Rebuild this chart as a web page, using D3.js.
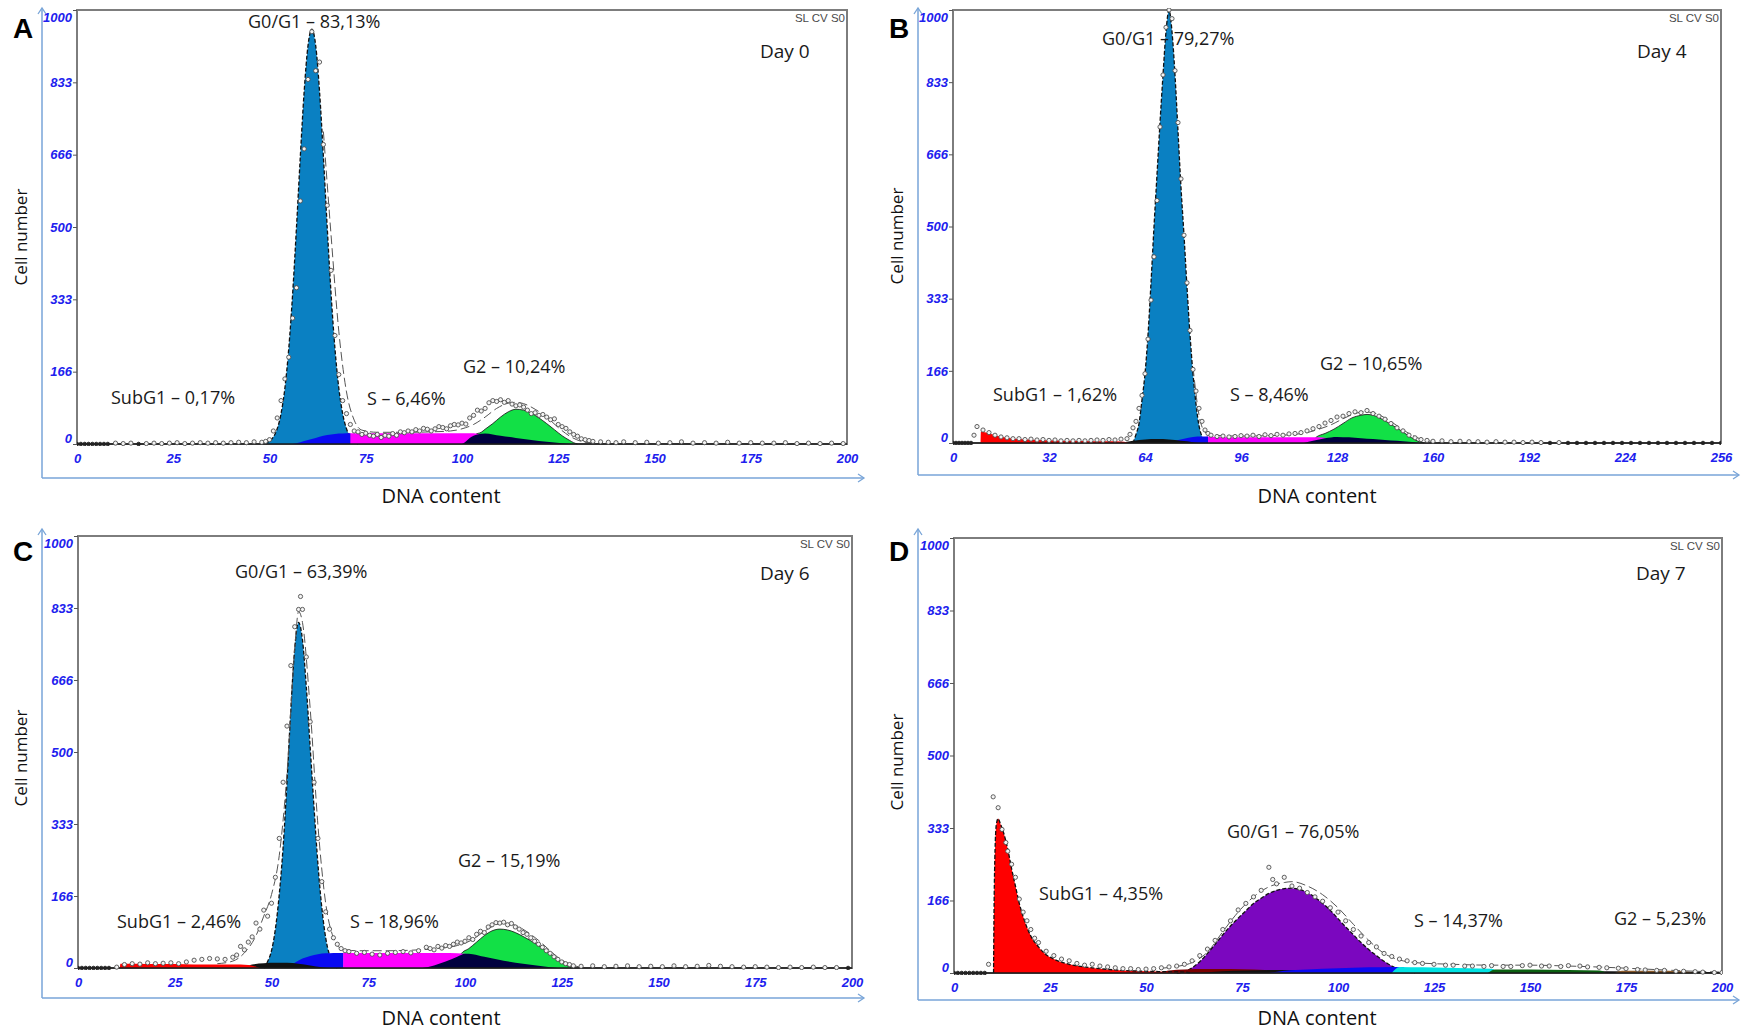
<!DOCTYPE html>
<html><head><meta charset="utf-8">
<script src="https://cdn.jsdelivr.net/npm/d3@7"></script>
<style>
body{margin:0;background:#fff;}
svg{display:block;}
</style></head>
<body>
<svg id="chart" width="1742" height="1032"></svg>
<script>
// ---------------- DATA ----------------
const yTickValues = [0, 166.67, 333.33, 500, 666.67, 833.33, 1000];
const yTickLabels = ["0", "166", "333", "500", "666", "833", "1000"];
const xTicks200 = [0, 25, 50, 75, 100, 125, 150, 175, 200];
const xTicks256 = [0, 32, 64, 96, 128, 160, 192, 224, 256];

const A_LABELS = ["G0/G1 – 83,13%", "SubG1 – 0,17%", "S – 6,46%", "G2 – 10,24%", "Day 0"];
const B_LABELS = ["G0/G1 – 79,27%", "SubG1 – 1,62%", "S – 8,46%", "G2 – 10,65%", "Day 4"];
const C_LABELS = ["G0/G1 – 63,39%", "SubG1 – 2,46%", "S – 18,96%", "G2 – 15,19%", "Day 6"];
const D_LABELS = ["G0/G1 – 76,05%", "SubG1 – 4,35%", "S – 14,37%", "G2 – 5,23%", "Day 7"];

// Panel A (Day 0) components: [DNA channel, cell count]
const A_G1 = [[49,0],[50,7],[51,16],[52,35],[53,70],[54,129],[55,220],[56,345],[57,498],[58,662],[59,812],[60,918],[61,956],[62,918],[63,812],[64,662],[65,498],[66,345],[67,220],[68,129],[69,70],[70,35],[71,16],[72,7],[73,0]];
const A_SB = [[56,0],[58,4],[60,9],[62,14],[64,19],[66,22],[68,24],[70,25],[71,25]];
const A_S = [[70.5,25],[72,25],[80,25],[90,25],[100,25],[103,25],[105,20],[106.5,8],[107,0]];
const A_AGG = [[100,0],[101,6],[102,14],[104,22],[106,24],[108,22],[110,19],[114,14],[118,9],[122,5],[126,2],[130,0]];
const A_G2 = [[103,0],[103.5,22],[105,27],[106,34],[108,47],[110,62],[112,74],[114,80],[116,78],[118,71],[120,60],[122,47],[124,33],[126,19],[128,8],[129,3],[130,0]];
const A_ENV = [[64,720],[66,480],[68,260],[70,120],[72,55],[74,32],[78,27],[85,27],[92,28],[97,30],[100,35],[103,45],[106,62],[109,82],[112,94],[114,96],[116,93],[119,80],[122,62],[125,38],[128,18],[131,6],[134,2],[137,0]];
const A_PTS = [[0,0],[1,0],[2,0],[3,0],[4,0],[5,0],[6,0],[7,0],[8,0],[10,2],[12,1],[14,2],[16,0],[18,1],[20,2],[22,1],[24,2],[26,3],[28,1],[30,2],[32,3],[34,2],[36,3],[38,2],[40,3],[42,4],[44,3],[46,5],[48,4],[49,6],[50,10],[51,30],[52,60],[53,100],[54,150],[55,200],[56,290],[57,360],[58,560],[59,680],[60,840],[61,950],[62,860],[63,880],[64,690],[65,550],[66,400],[67,250],[68,160],[69,100],[70,70],[71,45],[72,30],[73,28],[74,22],[75,25],[76,20],[77,18],[78,22],[79,15],[80,20],[81,18],[82,24],[83,20],[84,28],[85,26],[86,30],[87,28],[88,33],[89,30],[90,36],[91,34],[92,30],[93,35],[94,40],[95,38],[96,35],[97,42],[98,45],[99,44],[100,48],[101,46],[102,60],[103,66],[104,78],[105,76],[106,82],[107,95],[108,100],[109,98],[110,102],[111,96],[112,100],[113,92],[114,88],[115,90],[116,85],[117,78],[118,70],[119,72],[120,66],[121,68],[122,62],[123,56],[124,58],[125,45],[126,40],[127,36],[128,28],[129,22],[130,18],[131,12],[132,10],[133,8],[134,6],[136,5],[138,4],[140,3],[142,5],[145,3],[148,4],[151,2],[154,3],[157,5],[160,2],[163,3],[166,2],[169,4],[172,2],[175,3],[178,2],[181,2],[184,3],[187,1],[190,2],[193,1],[196,2],[199,1]];

// Panel B (Day 4)
const B_RED = [[9.2,0],[9.3,26],[11,24],[14,18],[18,12],[22,9],[28,7],[34,6],[40,5],[46,4],[52,4],[57,3],[58.5,0]];
const B_BLK = [[56,0],[58,3],[60,5],[64,8],[68,9],[72,8],[76,5],[80,2],[82,0]];
const B_G1 = [[60,0],[61,20],[62,45],[63,100],[64,160],[65,250],[66,370],[67,500],[68,620],[69,740],[70,850],[71,950],[72,1000],[73,950],[74,850],[75,720],[76,590],[77,480],[78,360],[79,250],[80,160],[81,90],[82,40],[83,15],[84,0]];
const B_SB = [[70,0],[72,2],[74,5],[77,10],[80,14],[83,15],[85,15]];
const B_S = [[84.5,15],[88,14],[96,13],[104,13],[112,13],[120,13],[124,12],[126,7],[127.5,0]];
const B_AGG = [[117,0],[120,5],[124,11],[128,14],[132,13],[136,11],[140,9],[144,7],[148,5],[152,3],[156,0]];
const B_G2 = [[120,0],[121,13],[124,22],[127,32],[130,45],[133,58],[136,64],[138,66],[140,64],[143,55],[146,43],[149,30],[152,16],[155,4],[157,0]];
const B_ENV = [[80,175],[82,65],[84,25],[86,18],[96,16],[106,17],[114,20],[118,24],[122,32],[126,42],[130,56],[134,68],[137,72],[140,70],[144,58],[148,40],[152,22],[156,9],[160,3],[164,0]];
const B_PTS = [[0,0],[1,0],[2,0],[3,0],[4,0],[5,0],[6,0],[7,18],[8,38],[10,30],[12,24],[14,18],[16,14],[18,12],[20,10],[22,10],[24,8],[26,9],[28,7],[30,8],[32,6],[34,7],[36,5],[38,6],[40,5],[42,6],[44,5],[46,6],[48,7],[50,6],[52,8],[54,7],[56,9],[58,10],[59,20],[60,35],[61,50],[62,80],[63,110],[64,160],[65,240],[66,330],[67,430],[68,560],[69,730],[70,850],[71,960],[72,1000],[73,980],[74,860],[75,740],[76,610],[77,480],[78,370],[79,260],[80,170],[81,120],[82,80],[83,50],[84,30],[85,22],[86,18],[88,15],[90,16],[92,14],[94,15],[96,17],[98,16],[100,18],[102,15],[104,19],[106,17],[108,20],[110,18],[112,21],[114,22],[116,24],[118,28],[120,33],[122,38],[124,46],[126,52],[128,60],[130,62],[132,68],[134,72],[136,70],[138,75],[140,68],[142,62],[144,55],[146,45],[148,35],[150,28],[152,18],[154,12],[156,8],[158,6],[160,4],[163,5],[166,3],[169,4],[172,3],[175,3],[178,2],[181,3],[184,2],[187,2],[190,1],[193,2],[196,1],[199,0],[202,1],[205,0],[208,0],[211,0],[214,0],[217,0],[220,0],[223,0],[226,0],[229,0],[232,0],[235,0],[238,0],[241,0],[244,0],[247,0],[250,0],[253,0],[256,0]];

// Panel C (Day 6)
const C_RED = [[10.8,0],[11,10],[15,10],[20,9],[25,9],[30,8],[35,8],[40,8],[44,7],[46,3],[47,0]];
const C_BLK = [[43,0],[45,8],[48,11],[51,12],[54,12],[57,10],[60,6],[63,2],[65,0]];
const C_G1 = [[48,0],[49,15],[50,40],[51,90],[52,170],[53,280],[54,430],[55,600],[56,740],[57,800],[58,760],[59,650],[60,510],[61,370],[62,240],[63,140],[64,70],[65,30],[66,10],[67,0]];
const C_SB = [[54,0],[56,12],[58,22],[60,28],[62,32],[64,34],[66,35],[68.5,35]];
const C_S = [[68.5,35],[72,35],[80,35],[88,35],[96,35],[100,33],[102,20],[103,0]];
const C_AGG = [[89,0],[92,6],[95,15],[98,26],[100,33],[102,32],[105,26],[110,17],[115,10],[120,4],[124,0]];
const C_G2 = [[98,0],[99,33],[101,45],[103,60],[105,75],[107,86],[109,90],[111,88],[113,82],[115,73],[117,63],[119,52],[121,40],[123,26],[125,12],[127,3],[128,0]];
const C_ENV = [[36,10],[40,16],[43,35],[46,75],[48,120],[50,170],[52,260],[54,450],[56,740],[57,825],[58,800],[60,600],[62,330],[64,150],[66,70],[68,45],[72,40],[80,40],[88,42],[94,46],[98,52],[102,66],[105,85],[108,100],[110,104],[113,99],[116,84],[119,64],[122,40],[125,18],[128,6],[131,0]];
const C_PTS = [[0,0],[1,0],[2,0],[3,0],[4,0],[5,0],[6,0],[7,0],[8,0],[10,2],[12,8],[14,10],[16,9],[18,12],[20,10],[22,11],[24,12],[26,10],[28,14],[30,18],[32,20],[34,22],[36,21],[38,20],[40,25],[41,30],[42,50],[43,42],[44,60],[45,72],[46,104],[47,90],[48,134],[49,120],[50,150],[51,210],[52,300],[53,430],[54,560],[55,700],[56,790],[57,830],[57.5,860],[58,830],[59,720],[60,570],[61,430],[62,300],[63,200],[64,130],[65,90],[66,70],[67,55],[68,45],[69,40],[70,38],[72,34],[74,36],[76,32],[78,30],[80,34],[82,36],[84,38],[86,35],[88,40],[90,48],[91,45],[92,42],[93,50],[94,46],[95,52],[96,50],[97,55],[98,60],[99,58],[100,62],[101,70],[102,66],[103,78],[104,85],[105,82],[106,95],[107,100],[108,105],[109,104],[110,106],[111,100],[112,103],[113,95],[114,90],[115,82],[116,78],[117,70],[118,62],[119,55],[120,48],[121,40],[122,34],[123,26],[124,20],[125,14],[126,10],[127,8],[128,5],[130,4],[133,5],[136,3],[139,4],[142,5],[145,3],[148,4],[151,3],[154,5],[157,3],[160,4],[163,6],[166,4],[169,3],[172,2],[175,3],[178,2],[181,1],[184,2],[187,1],[190,2],[193,1],[196,1],[199,0]];

// Panel D (Day 7)
const D_TAIL = [[138,0],[140,3],[150,3],[170,4],[190,3],[200,2]];
const D_DRED = [[54,0],[56,6],[60,8],[66,9],[72,9],[78,8],[81,7],[82,0]];
const D_BLK = [[64,0],[70,4],[76,6],[82,7],[88,7],[92,6],[94,0]];
const D_G1 = [[58,0],[60,3],[62,12],[64,26],[66,45],[68,66],[70,88],[72,108],[74,126],[76,143],[78,160],[80,172],[82,183],[84,190],[86,194],[88,195],[90,192],[92,185],[94,174],[96,160],[98,144],[100,125],[102,106],[104,88],[106,70],[108,54],[110,40],[112,27],[114,16],[116,8],[118,3],[120,0]];
const D_SB = [[82,0],[86,5],[92,8],[100,11],[108,13],[114,14],[117,14],[118,0]];
const D_CYAN = [[114,0],[116,14],[122,13],[128,12],[134,11],[140,10],[142,0]];
const D_DGRN = [[139,0],[141,8],[150,8],[160,7],[168,6],[170,0]];
const D_BRN = [[172,0],[174,5],[182,5],[190,4],[193,0]];
const D_RED = [[10.3,0],[10.5,200],[11,340],[11.5,355],[12,345],[13,320],[14,285],[15,240],[16,200],[17,160],[18,130],[19,105],[20,85],[22,60],[24,42],[26,32],[28,25],[30,20],[34,14],[38,10],[42,7],[46,5],[50,4],[55,3],[60,2],[62,0]];
const D_ENV = [[54,11],[58,15],[62,24],[66,48],[70,95],[74,140],[78,175],[82,198],[86,208],[88,210],[92,200],[96,180],[100,150],[104,112],[108,75],[112,45],[116,30],[120,24],[130,20],[140,18],[150,18],[160,16],[170,13],[180,9],[190,5],[200,2]];
const D_PTS = [[0,0],[1,0],[2,0],[3,0],[4,0],[5,0],[6,0],[7,0],[8,0],[9,20],[10.2,405],[11.5,380],[12.5,330],[13.5,300],[14,280],[15,250],[16,220],[17,170],[18,140],[19,120],[20,100],[21,80],[22,70],[24,50],[26,40],[28,32],[30,28],[32,22],[34,18],[36,20],[38,16],[40,14],[42,12],[44,10],[46,10],[48,8],[50,9],[52,10],[54,12],[56,14],[58,16],[60,20],[62,28],[64,40],[66,55],[68,75],[70,100],[72,120],[74,145],[76,160],[78,175],[80,190],[82,243],[83,215],[84,205],[86,220],[88,200],[90,195],[92,185],[94,175],[96,165],[98,150],[100,140],[102,120],[104,100],[106,85],[108,70],[110,60],[112,45],[114,38],[116,32],[118,28],[120,24],[122,22],[125,20],[128,18],[130,18],[133,16],[135,16],[138,15],[140,17],[143,15],[145,15],[148,17],[150,18],[153,16],[155,16],[158,15],[160,17],[163,16],[165,14],[168,13],[170,12],[173,11],[175,10],[178,8],[180,7],[183,6],[185,6],[188,4],[190,4],[193,3],[195,2],[198,1],[200,1]];

// ---------------- LAYOUT ----------------
const COL = {
  g1:"#0a80c2", purple:"#7b07bf", red:"#ff0000", magenta:"#ff00ff", green:"#12e046",
  royal:"#0a0af2", navy:"#00003f", black:"#111111", cyan:"#00e3e3", dgreen:"#0a6010",
  dred:"#7a0000", brown:"#8a5a2a"
};
const panels = [
  {letter:"A", x0:77, x1:847, yTop:10, yBase:444, xMax:200, ticks:xTicks200,
   blue:{x:42, yTop:8, yBot:478, xRight:864}, let:[13,38], cell:[27,237], dna:[441,503],
   labels:A_LABELS, lpos:[[248,28],[111,404],[367,405],[463,373],[760,58]],
   areas:[[A_G1,COL.g1,"g1"],[A_G2,COL.green,"g2"],[A_S,COL.magenta],[A_SB,COL.royal],[A_AGG,COL.navy]],
   env:A_ENV, pts:A_PTS},
  {letter:"B", x0:953, x1:1721, yTop:10, yBase:443, xMax:256, ticks:xTicks256,
   blue:{x:918, yTop:8, yBot:475, xRight:1739}, let:[889,38], cell:[903,236], dna:[1317,503],
   labels:B_LABELS, lpos:[[1102,45],[993,401],[1230,401],[1320,370],[1637,58]],
   areas:[[B_G1,COL.g1,"g1"],[B_G2,COL.green,"g2"],[B_S,COL.magenta],[B_SB,COL.royal],[B_AGG,COL.navy],[B_BLK,COL.black],[B_RED,COL.red]],
   env:B_ENV, pts:B_PTS},
  {letter:"C", x0:78, x1:852, yTop:536, yBase:968, xMax:200, ticks:xTicks200,
   blue:{x:42, yTop:529, yBot:998, xRight:864}, let:[13,561], cell:[27,758], dna:[441,1025],
   labels:C_LABELS, lpos:[[235,578],[117,928],[350,928],[458,867],[760,580]],
   areas:[[C_G1,COL.g1,"g1"],[C_G2,COL.green,"g2"],[C_S,COL.magenta],[C_SB,COL.royal],[C_AGG,COL.navy],[C_BLK,COL.black],[C_RED,COL.red]],
   env:C_ENV, pts:C_PTS},
  {letter:"D", x0:954, x1:1722, yTop:538, yBase:973, xMax:200, ticks:xTicks200,
   blue:{x:918, yTop:529, yBot:1000, xRight:1739}, let:[889,561], cell:[903,762], dna:[1317,1025],
   labels:D_LABELS, lpos:[[1227,838],[1039,900],[1414,927],[1614,925],[1636,580]],
   areas:[[D_G1,COL.purple,"g1"],[D_TAIL,COL.black],[D_DRED,COL.dred],[D_BLK,COL.black],[D_SB,COL.royal],[D_CYAN,COL.cyan],[D_DGRN,COL.dgreen],[D_BRN,COL.brown],[D_RED,COL.red,"g1"]],
   env:D_ENV, pts:D_PTS}
];

// ---------------- DRAW ----------------
const svg = d3.select("#chart");
const blueAxis = "#79a5d8";
const tickFont = "italic bold 13px 'Liberation Sans', Arial, sans-serif";

panels.forEach((P, i) => {
  const g = svg.append("g");
  const x = d3.scaleLinear().domain([0, P.xMax]).range([P.x0, P.x1]);
  const y = d3.scaleLinear().domain([0, 1000]).range([P.yBase, P.yTop]);

  // outer blue axes with arrows
  const b = P.blue;
  g.append("line").attr("x1", b.x).attr("x2", b.x).attr("y1", b.yTop).attr("y2", b.yBot)
    .attr("stroke", blueAxis).attr("stroke-width", 1.5);
  g.append("line").attr("x1", b.x).attr("x2", b.xRight).attr("y1", b.yBot).attr("y2", b.yBot)
    .attr("stroke", blueAxis).attr("stroke-width", 1.5);
  g.append("path").attr("d", `M${b.x-4},${b.yTop+6}L${b.x},${b.yTop}L${b.x+4},${b.yTop+6}`)
    .attr("fill", "none").attr("stroke", blueAxis).attr("stroke-width", 1.3);
  g.append("path").attr("d", `M${b.xRight-6},${b.yBot-4}L${b.xRight},${b.yBot}L${b.xRight-6},${b.yBot+4}`)
    .attr("fill", "none").attr("stroke", blueAxis).attr("stroke-width", 1.3);

  // plot frame
  g.append("rect").attr("x", P.x0).attr("y", P.yTop).attr("width", P.x1 - P.x0).attr("height", P.yBase - P.yTop)
    .attr("fill", "#fff").attr("stroke", "#7d7d7d").attr("stroke-width", 2);

  const clipId = "clip" + i;
  g.append("clipPath").attr("id", clipId).append("rect")
    .attr("x", P.x0).attr("y", P.yTop - 2).attr("width", P.x1 - P.x0).attr("height", P.yBase - P.yTop + 4);
  const plot = g.append("g").attr("clip-path", `url(#${clipId})`);

  const area = d3.area().x(d => x(d[0])).y0(y(0)).y1(d => y(d[1])).curve(d3.curveMonotoneX);
  const line = d3.line().x(d => x(d[0])).y(d => y(d[1])).curve(d3.curveMonotoneX);

  P.areas.forEach(([data, color, kind]) => {
    plot.append("path").datum(data).attr("d", area).attr("fill", color).attr("stroke", "none");
    if (kind === "g1") {
      plot.append("path").datum(data).attr("d", line).attr("fill", "none")
        .attr("stroke", "#111").attr("stroke-width", 1.3).attr("stroke-dasharray", "4,2");
    } else if (kind === "g2") {
      plot.append("path").datum(data).attr("d", line).attr("fill", "none")
        .attr("stroke", "#222").attr("stroke-width", 0.9);
    }
  });

  // fitted envelope
  plot.append("path").datum(P.env).attr("d", line).attr("fill", "none")
    .attr("stroke", "#555").attr("stroke-width", 1).attr("stroke-dasharray", "9,4");

  // baseline
  plot.append("line").attr("x1", P.x0).attr("x2", P.x1).attr("y1", y(0)).attr("y2", y(0))
    .attr("stroke", "#1a1a1a").attr("stroke-width", 1.6);

  // data points
  plot.selectAll("circle.pt").data(P.pts).join("circle").attr("class", "pt")
    .attr("cx", d => x(d[0])).attr("cy", d => y(d[1]))
    .attr("r", d => d[1] === 0 ? 1.8 : 2.1)
    .attr("fill", d => d[1] === 0 ? "#222" : "#f4f4f4")
    .attr("stroke", d => d[1] === 0 ? "#222" : "#4f4f4f")
    .attr("stroke-width", 0.9);

  // axes
  const yAxis = d3.axisLeft(y).tickValues(yTickValues).tickFormat((d, k) => yTickLabels[k]).tickSize(4).tickPadding(1);
  const ya = g.append("g").attr("transform", `translate(${P.x0},0)`).call(yAxis);
  ya.select(".domain").remove();
  ya.selectAll(".tick line").attr("stroke", "#555");
  ya.selectAll(".tick text").attr("fill", "#2020ee").style("font", tickFont)
    .attr("dy", (d, k) => k === 6 ? "0.9em" : (k === 0 ? "-0.15em" : "0.32em"));

  const xAxis = d3.axisBottom(x).tickValues(P.ticks).tickSize(0).tickPadding(10);
  const xa = g.append("g").attr("transform", `translate(0,${P.yBase})`).call(xAxis);
  xa.select(".domain").remove();
  xa.selectAll(".tick text").attr("fill", "#2020ee").style("font", tickFont);

  // SL CV S0
  g.append("text").attr("x", P.x1 - 2).attr("y", P.yTop + 12).attr("text-anchor", "end")
    .attr("fill", "#4a4a4a").style("font", "11.5px 'Liberation Sans', Arial, sans-serif").text("SL CV S0");

  // annotations
  P.labels.forEach((t, k) => {
    g.append("text").attr("x", P.lpos[k][0]).attr("y", P.lpos[k][1]).attr("fill", "#1a1a1a")
      .style("font-family", "'Open Sans', sans-serif").style("font-size", k === 4 ? "19px" : "18px").text(t);
  });

  // panel letter
  g.append("text").attr("x", P.let[0]).attr("y", P.let[1]).attr("fill", "#000")
    .style("font", "bold 28px 'Liberation Sans', Arial, sans-serif").text(P.letter);

  // axis titles
  g.append("text").attr("transform", `translate(${P.cell[0]},${P.cell[1]}) rotate(-90)`)
    .attr("text-anchor", "middle").attr("fill", "#111")
    .style("font-family", "'Open Sans', sans-serif").style("font-size", "17px").text("Cell number");
  g.append("text").attr("x", P.dna[0]).attr("y", P.dna[1]).attr("text-anchor", "middle").attr("fill", "#111")
    .style("font-family", "'Open Sans', sans-serif").style("font-size", "20px").text("DNA content");
});
</script>
</body></html>
